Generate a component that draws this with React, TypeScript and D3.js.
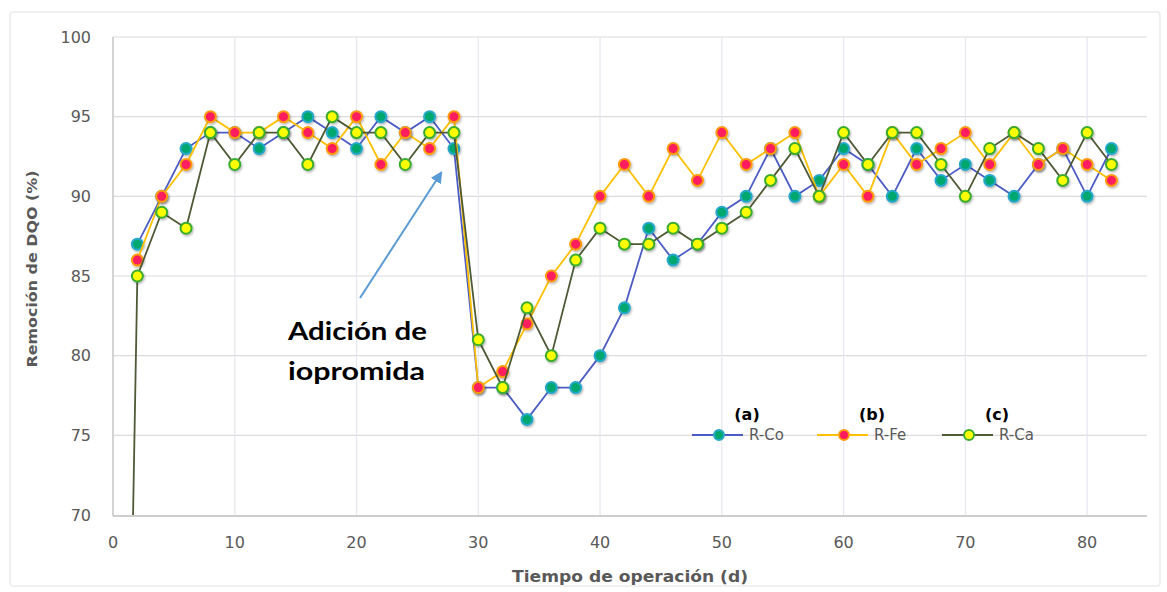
import React from "react";
import * as d3 from "d3";

const days = [2, 4, 6, 8, 10, 12, 14, 16, 18, 20, 22, 24, 26, 28, 30, 32, 34, 36, 38, 40, 42, 44, 46, 48, 50, 52, 54, 56, 58, 60, 62, 64, 66, 68, 70, 72, 74, 76, 78, 80, 82];
const rCo = [87, 90, 93, 94, 94, 93, 94, 95, 94, 93, 95, 94, 95, 93, 78, 78, 76, 78, 78, 80, 83, 88, 86, 87, 89, 90, 93, 90, 91, 93, 92, 90, 93, 91, 92, 91, 90, 92, 93, 90, 93];
const rFe = [86, 90, 92, 95, 94, 94, 95, 94, 93, 95, 92, 94, 93, 95, 78, 79, 82, 85, 87, 90, 92, 90, 93, 91, 94, 92, 93, 94, 90, 92, 90, 94, 92, 93, 94, 92, 94, 92, 93, 92, 91];
const rCa = [85, 89, 88, 94, 92, 94, 94, 92, 95, 94, 94, 92, 94, 94, 81, 78, 83, 80, 86, 88, 87, 87, 88, 87, 88, 89, 91, 93, 90, 94, 92, 94, 94, 92, 90, 93, 94, 93, 91, 94, 92];
// R-Ca starts from the origin (clipped below the axis)
const caStartDay = 0;
const caStartValue = 0;

const seriesNames = ["R-Co", "R-Fe", "R-Ca"];
const seriesTags = ["(a)", "(b)", "(c)"];
const xTicks = [0, 10, 20, 30, 40, 50, 60, 70, 80];
const yTicks = [70, 75, 80, 85, 90, 95, 100];

const styles = [
  { line: "#4c5cc4", fill: "#00a870", stroke: "#25a8c8" },
  { line: "#ffc000", fill: "#ff1a5e", stroke: "#ff9a10" },
  { line: "#4e5a35", fill: "#ffff00", stroke: "#3aac2e" },
];

export default function App() {
  const W = 1167, H = 592;
  const x = d3.scaleLinear().domain([0, 85]).range([113, 1148]);
  const y = d3.scaleLinear().domain([70, 100]).range([515, 37]);

  const series = [
    days.map((d, i) => [d, rCo[i]] as [number, number]),
    days.map((d, i) => [d, rFe[i]] as [number, number]),
    [[caStartDay, caStartValue] as [number, number], ...days.map((d, i) => [d, rCa[i]] as [number, number])],
  ];
  const markerPts = [
    series[0],
    series[1],
    days.map((d, i) => [d, rCa[i]] as [number, number]),
  ];
  const line = d3.line<[number, number]>().x((d) => x(d[0])).y((d) => y(d[1]));

  const legendX = [692, 817, 942];
  const legendY = 435;

  return (
    <svg width={W} height={H} style={{ position: "absolute", left: 0, top: 0, background: "#fff" }}>
      <defs>
        <clipPath id="plot">
          <rect x={113} y={20} width={1040} height={495} />
        </clipPath>
        <filter id="sh" x="-50%" y="-50%" width="200%" height="200%">
          <feDropShadow dx="1" dy="1.5" stdDeviation="1" floodColor="#000" floodOpacity="0.3" />
        </filter>
        <marker id="arr" viewBox="0 0 10 10" refX="8" refY="5" markerWidth="6" markerHeight="6" orient="auto">
          <path d="M0,0 L10,5 L0,10 z" fill="#5b9bd5" />
        </marker>
      </defs>
      <rect x={10} y={12} width={1150} height={574} fill="none" stroke="#ececec" strokeWidth={1.5} rx={3} />
      {/* grid */}
      {yTicks.slice(1).map((t) => (
        <line key={"gy" + t} x1={113} x2={1147} y1={y(t)} y2={y(t)} stroke="#dcdcdc" strokeWidth={1.2} />
      ))}
      {xTicks.slice(1).map((t) => (
        <line key={"gx" + t} x1={x(t)} x2={x(t)} y1={37} y2={515} stroke="#e6e6ef" strokeWidth={1.2} />
      ))}
      <line x1={113} x2={113} y1={37} y2={516} stroke="#bdbdbd" strokeWidth={1.3} />
      <line x1={113} x2={1147} y1={516} y2={516} stroke="#bdbdbd" strokeWidth={1.3} />
      {/* tick labels */}
      {yTicks.map((t) => (
        <text key={"yl" + t} x={91} y={y(t)} dy="0.36em" textAnchor="end" fontFamily="DejaVu Sans" fontSize={16} fill="#595959">
          {t}
        </text>
      ))}
      {xTicks.map((t) => (
        <text key={"xl" + t} x={x(t)} y={542} dy="0.36em" textAnchor="middle" fontFamily="DejaVu Sans" fontSize={16} fill="#595959">
          {t}
        </text>
      ))}
      {/* axis titles */}
      <text x={630} y={582} textAnchor="middle" fontFamily="DejaVu Sans" fontWeight="bold" fontSize={15} fill="#595959" textLength={236} lengthAdjust="spacingAndGlyphs">
        Tiempo de operación  (d)
      </text>
      <text transform="translate(37,269) rotate(-90)" textAnchor="middle" fontFamily="DejaVu Sans" fontWeight="bold" fontSize={14} fill="#595959" textLength={197} lengthAdjust="spacingAndGlyphs">
        Remoción de DQO  (%)
      </text>
      {/* series */}
      <g clipPath="url(#plot)">
        {series.map((s, i) => (
          <g key={"s" + i}>
            <path d={line(s) || ""} fill="none" stroke={styles[i].line} strokeWidth={1.8} />
            {markerPts[i].map((p, j) => (
              <circle key={j} cx={x(p[0])} cy={y(p[1])} r={5.5} fill={styles[i].fill} stroke={styles[i].stroke} strokeWidth={2} filter="url(#sh)" />
            ))}
          </g>
        ))}
      </g>
      {/* legend */}
      {seriesNames.map((n, i) => (
        <g key={"lg" + i}>
          <text x={legendX[i] + 55} y={legendY - 15} textAnchor="middle" fontFamily="DejaVu Sans" fontWeight="bold" fontSize={16} fill="#000">
            {seriesTags[i]}
          </text>
          <line x1={legendX[i]} x2={legendX[i] + 51} y1={legendY} y2={legendY} stroke={styles[i].line} strokeWidth={1.8} />
          <circle cx={legendX[i] + 27} cy={legendY} r={5} fill={styles[i].fill} stroke={styles[i].stroke} strokeWidth={2} />
          <text x={legendX[i] + 57} y={legendY} dy="0.36em" fontFamily="DejaVu Sans" fontSize={15} fill="#595959">
            {n}
          </text>
        </g>
      ))}
      {/* annotation */}
      <line x1={360} y1={298} x2={441} y2={173} stroke="#5b9bd5" strokeWidth={2} markerEnd="url(#arr)" />
      <text x={288} y={340} fontFamily="Lato" fontWeight="bold" fontSize={25} fill="#000" textLength={139} lengthAdjust="spacingAndGlyphs">
        Adición de
      </text>
      <text x={288} y={380} fontFamily="Lato" fontWeight="bold" fontSize={25} fill="#000" textLength={137} lengthAdjust="spacingAndGlyphs">
        iopromida
      </text>
    </svg>
  );
}
